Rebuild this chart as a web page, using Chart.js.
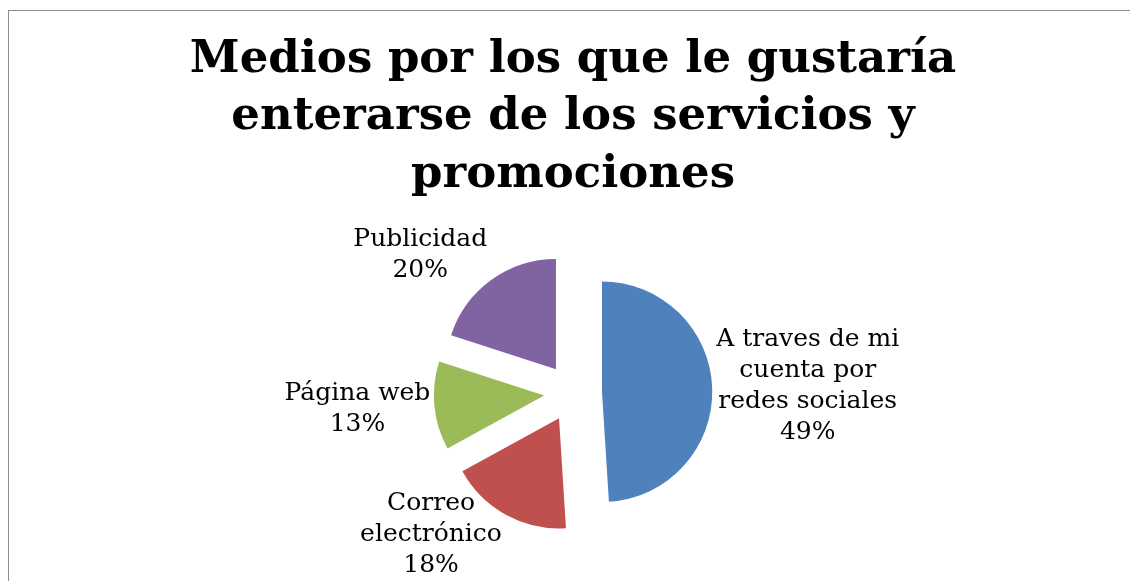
<!DOCTYPE html>
<html>
<head>
<meta charset="utf-8">
<script src="https://cdn.jsdelivr.net/npm/chart.js@4"></script>
<style>
  body { margin: 0; overflow: hidden; background: #fff; }
  #frame { position: absolute; left: 8px; top: 10px; width: 1130px; height: 580px; border: 1px solid #8c8c8c; }
</style>
</head>
<body>
<div id="frame"><canvas id="pie"></canvas></div>
<script>
// datos del grafico
const titulo = ["Medios por los que le gustaría", "enterarse de los servicios y", "promociones"];
const categorias = ["A traves de mi cuenta por redes sociales", "Correo electrónico", "Página web", "Publicidad"];
const valores = [49, 18, 13, 20];
const colores = ["#4F81BD", "#C0504D", "#9BBB59", "#8064A2"];

const fuente = "'DejaVu Serif', serif";

// separa las porciones (explode) moviendo cada arco por su angulo medio
const explodePlugin = {
    id: "explode",
    beforeDatasetsDraw(chart, args, opts) {
        const ctx = chart.ctx;
        chart.getDatasetMeta(0).data.forEach(arc => {
            const mid = (arc.startAngle + arc.endAngle) / 2;
            ctx.save();
            ctx.translate(Math.cos(mid) * opts.distance, Math.sin(mid) * opts.distance);
            arc.draw(ctx);
            ctx.restore();
        });
        return false;
    }
};

// etiquetas fuera del pastel: categoria + porcentaje
const etiquetasPlugin = {
    id: "etiquetas",
    afterDraw(chart, args, opts) {
        const ctx = chart.ctx;
        const dist = chart.options.plugins.explode.distance;
        const data = chart.data.datasets[0].data;
        const total = data.reduce((a, b) => a + b, 0);
        ctx.save();
        ctx.font = opts.size + "px " + fuente;
        ctx.fillStyle = opts.color;
        ctx.textAlign = "center";
        ctx.textBaseline = "middle";
        chart.getDatasetMeta(0).data.forEach((arc, i) => {
            // partir el texto en lineas
            const words = chart.data.labels[i].split(" ");
            const lines = [];
            let cur = "";
            words.forEach(w => {
                const t = cur ? cur + " " + w : w;
                if (cur && ctx.measureText(t).width > opts.maxWidth) { lines.push(cur); cur = w; }
                else cur = t;
            });
            lines.push(cur);
            lines.push(Math.round(data[i] / total * 100) + "%");

            const w = Math.max(...lines.map(l => ctx.measureText(l).width));
            const lh = opts.size * opts.lineHeight;
            const h = lines.length * lh;
            const mid = (arc.startAngle + arc.endAngle) / 2;
            const dx = Math.cos(mid), dy = Math.sin(mid);
            const ox = arc.x + dx * (dist + arc.outerRadius);
            const oy = arc.y + dy * (dist + arc.outerRadius);
            const cx = ox + Math.sign(dx) * (w / 2 + opts.gap) * Math.min(1, Math.abs(dx) * 2.5);
            let cy = oy + dy * h / 2;
            cy = Math.min(cy, chart.height - opts.bottomMargin - h / 2);
            lines.forEach((l, k) => ctx.fillText(l, cx, cy - h / 2 + lh * (k + 0.5)));
        });
        ctx.restore();
    }
};

new Chart(document.getElementById("pie"), {
    type: "pie",
    data: {
        labels: categorias,
        datasets: [{
            data: valores,
            backgroundColor: colores,
            borderWidth: 0
        }]
    },
    options: {
        responsive: true,
        maintainAspectRatio: false,
        animation: false,
        events: [],
        layout: { padding: { top: 0, bottom: 88, left: 0, right: 2 } },
        plugins: {
            legend: { display: false },
            tooltip: { enabled: false },
            title: {
                display: true,
                text: titulo,
                color: "#000",
                font: { family: fuente, size: 45, weight: "bold", lineHeight: 1.27 },
                padding: { top: 21, bottom: 79 }
            },
            explode: { distance: 29 },
            etiquetas: { size: 25, lineHeight: 1.24, color: "#000", maxWidth: 205, gap: 4, bottomMargin: 10 }
        }
    },
    plugins: [explodePlugin, etiquetasPlugin]
});
</script>
</body>
</html>
